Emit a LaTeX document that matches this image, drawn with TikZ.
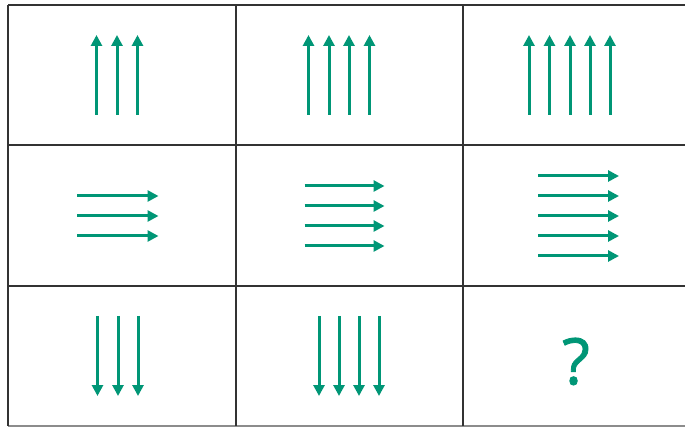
\documentclass[tikz,border=0pt]{standalone}
\usepackage{fontspec}
\setmainfont{Open Sans}
\newfontfamily\qfont[FakeBold=1.3]{Open Sans}
\usetikzlibrary{arrows.meta}
\definecolor{arrgreen}{RGB}{0,150,118}
\tikzset{
  gridline/.style={draw=black!80, line width=1.5pt},
  arr/.style={draw=arrgreen, line width=3pt, -{Triangle[width=11pt,length=11pt]}},
  qmark/.style={text=arrgreen, font=\qfont\fontsize{64}{64}\selectfont, inner sep=0pt}
}
\begin{document}
\begin{tikzpicture}[x=1pt,y=-1pt]
\useasboundingbox (0,0) rectangle (685,427);
\fill[white] (0,0) rectangle (685,427);
% grid
\draw[gridline] (8,5) -- (700,5);
\draw[gridline] (8,145) -- (700,145);
\draw[gridline] (8,286) -- (700,286);
\draw[gridline, draw=black!45] (8,426) -- (700,426);
\draw[gridline] (8,5) -- (8,426);
\draw[gridline] (236,5) -- (236,426);
\draw[gridline] (463,5) -- (463,426);
% row 1: up arrows
\foreach \x in {96.5,117,137.5} \draw[arr] (\x,115) -- (\x,35);
\foreach \x in {308.5,329,349,369.5} \draw[arr] (\x,115) -- (\x,35);
\foreach \x in {529,549.5,570,590,610} \draw[arr] (\x,115) -- (\x,35);
% row 2: right arrows
\foreach \y in {196,216,236} \draw[arr] (77,\y) -- (158.5,\y);
\foreach \y in {186,206,226,246} \draw[arr] (304.5,\y) -- (384.5,\y);
\foreach \y in {176,196,216,236,256} \draw[arr] (538,\y) -- (619,\y);
% row 3: down arrows
\foreach \x in {97.5,118,138} \draw[arr] (\x,316) -- (\x,396);
\foreach \x in {319,339,359,379} \draw[arr] (\x,316) -- (\x,396);
% question mark
\node[qmark] (q) at (576,361.5) {?};
\end{tikzpicture}
\end{document}
